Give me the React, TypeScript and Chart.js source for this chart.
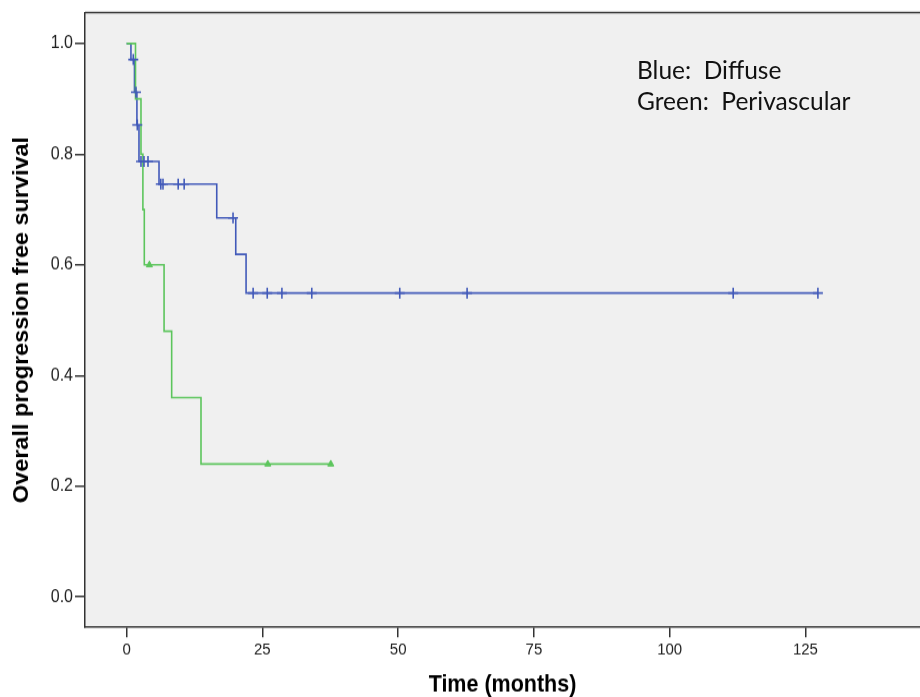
import React, { useEffect, useRef } from "react";
import { Chart, registerables } from "chart.js";

Chart.register(...registerables);

// Axis ticks
const xTicks = [0, 25, 50, 75, 100, 125];
const yTicks = [0, 0.2, 0.4, 0.6, 0.8, 1.0];

// Blue: Diffuse (Kaplan–Meier steps)
const diffuseTimes = [0, 0.8, 1.45, 1.9, 2.28, 5.97, 16.6, 20.1, 22.0, 127.3];
const diffuseSurvival = [1.0, 0.971, 0.912, 0.853, 0.787, 0.746, 0.685, 0.619, 0.549, 0.549];
const diffuseCensorTimes = [1.23, 1.73, 1.97, 2.65, 3.2, 3.94, 6.3, 6.7, 9.5, 10.6, 19.6, 23.3, 25.9, 28.6, 34.1, 50.3, 62.7, 111.7, 127.3];
const diffuseCensorSurvival = [0.971, 0.912, 0.853, 0.787, 0.787, 0.787, 0.746, 0.746, 0.746, 0.746, 0.685, 0.549, 0.549, 0.549, 0.549, 0.549, 0.549, 0.549, 0.549];

// Green: Perivascular
const periTimes = [0, 1.64, 2.65, 3.0, 3.26, 6.9, 8.3, 13.7, 37.6];
const periSurvival = [1.0, 0.9, 0.8, 0.7, 0.6, 0.48, 0.36, 0.24, 0.24];
const periCensorTimes = [4.2, 26.0, 37.6];
const periCensorSurvival = [0.6, 0.24, 0.24];

const BLUE = "#4159b9";
const GREEN = "#5cc55c";
const AXIS = "#333333";

// The reference image is slightly stretched vertically
const W = 920;
const H_OUT = 697;
const H_IN = 639;
const K = H_OUT / H_IN;

const toPoints = (xs: number[], ys: number[]) => xs.map((x, i) => ({ x, y: ys[i] }));

const framePlugin = {
  id: "frame",
  beforeDraw(chart: any) {
    const { ctx, chartArea } = chart;
    ctx.save();
    ctx.fillStyle = "#ffffff";
    ctx.fillRect(0, 0, chart.width, chart.height);
    ctx.fillStyle = "#f0f0f0";
    ctx.fillRect(chartArea.left, chartArea.top, chartArea.right - chartArea.left, chartArea.bottom - chartArea.top);
    ctx.restore();
  },
  afterDraw(chart: any) {
    const { ctx, chartArea } = chart;
    ctx.save();
    ctx.strokeStyle = AXIS;
    ctx.lineWidth = 1.5;
    ctx.beginPath();
    ctx.moveTo(chartArea.left, chartArea.top);
    ctx.lineTo(chartArea.right + 5, chartArea.top);
    ctx.stroke();
    ctx.restore();
  },
};

const FONT = "'Liberation Sans', Arial, sans-serif";

export default function App() {
  const canvasRef = useRef<HTMLCanvasElement | null>(null);

  useEffect(() => {
    if (!canvasRef.current) return;
    const chart = new Chart(canvasRef.current, {
      type: "scatter",
      data: {
        datasets: [
          {
            type: "scatter",
            label: "Diffuse censored",
            data: toPoints(diffuseCensorTimes, diffuseCensorSurvival),
            pointStyle: "cross",
            pointRadius: 5,
            borderColor: BLUE,
            borderWidth: 1.6,
            order: 0,
          },
          {
            type: "scatter",
            label: "Perivascular censored",
            data: toPoints(periCensorTimes, periCensorSurvival),
            pointStyle: "triangle",
            pointRadius: 3.5,
            borderColor: GREEN,
            backgroundColor: GREEN,
            borderWidth: 1,
            order: 1,
          },
          {
            type: "line",
            label: "Perivascular",
            data: toPoints(periTimes, periSurvival),
            borderColor: GREEN,
            borderWidth: 1.6,
            stepped: "before",
            pointRadius: 0,
            fill: false,
            order: 2,
          },
          {
            type: "line",
            label: "Diffuse",
            data: toPoints(diffuseTimes, diffuseSurvival),
            borderColor: BLUE,
            borderWidth: 1.6,
            stepped: "before",
            pointRadius: 0,
            fill: false,
            order: 3,
          },
        ],
      },
      options: {
        responsive: false,
        animation: false,
        layout: { autoPadding: false, padding: { top: 10 / K, right: 0, left: 0, bottom: 0 } },
        plugins: {
          legend: { display: false },
          tooltip: { enabled: false },
        },
        scales: {
          x: {
            type: "linear",
            position: "bottom",
            min: -7.66,
            max: 146.1,
            afterBuildTicks: (s: any) => {
              s.ticks = xTicks.map((v) => ({ value: v }));
            },
            afterFit: (s: any) => {
              s.height = (H_OUT - 627.3) / K;
            },
            border: { display: true, color: AXIS, width: 1.5 },
            grid: { display: true, drawOnChartArea: false, drawTicks: true, tickLength: 9.2, color: AXIS, lineWidth: 1.5 },
            ticks: {
              padding: 3,
              color: "#222",
              font: { family: FONT, size: 15 },
              callback: (v: any) => String(v),
              maxRotation: 0,
            },
            title: {
              display: true,
              text: "Time (months)",
              color: "#000",
              font: { family: FONT, size: 21.5, weight: "bold" },
              padding: { top: 0, bottom: -2 },
            },
          },
          y: {
            type: "linear",
            min: -0.0551,
            max: 1.0558,
            afterBuildTicks: (s: any) => {
              s.ticks = yTicks.map((v) => ({ value: v }));
            },
            afterFit: (s: any) => {
              s.width = 85;
            },
            border: { display: true, color: AXIS, width: 1.5 },
            grid: { display: true, drawOnChartArea: false, drawTicks: true, tickLength: 10, color: AXIS, lineWidth: 1.5 },
            ticks: {
              padding: 2,
              color: "#222",
              font: { family: FONT, size: 16 },
              callback: (v: any) => Number(v).toFixed(1),
            },
            title: {
              display: true,
              text: "Overall progression free survival",
              color: "#000",
              font: { family: FONT, size: 21.5, weight: "bold" },
              padding: { top: 9, bottom: 0 },
            },
          },
        },
      },
      plugins: [framePlugin],
    } as any);
    return () => chart.destroy();
  }, []);

  return (
    <div style={{ position: "absolute", left: 0, top: 0, width: W, height: H_OUT, overflow: "hidden", background: "#fff" }}>
      <canvas
        ref={canvasRef}
        width={W}
        height={H_IN}
        style={{ display: "block", width: W, height: H_IN, transform: `scaleY(${K})`, transformOrigin: "0 0" }}
      />
      <div
        style={{
          position: "absolute",
          left: 637,
          top: 54,
          fontFamily: "Lato, 'Open Sans', sans-serif",
          fontSize: 24.5,
          lineHeight: "31px",
          color: "#111",
          whiteSpace: "pre",
        }}
      >
        <div>{"Blue:  Diffuse"}</div>
        <div>{"Green:  Perivascular"}</div>
      </div>
    </div>
  );
}
